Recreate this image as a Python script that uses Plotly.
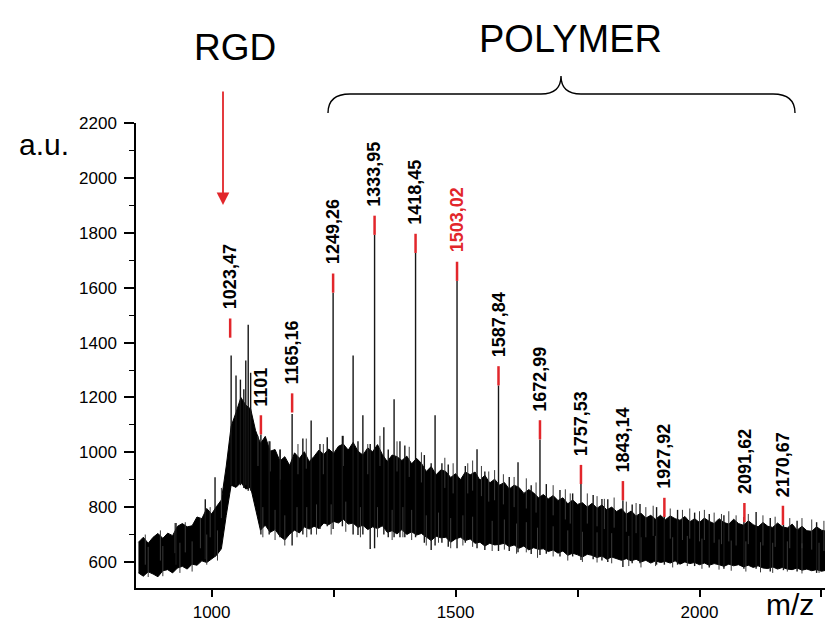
import plotly.graph_objects as go

# ---------------- data ----------------
band_mz = list(range(850, 2291, 10))
band_top = [672, 690, 668, 690, 704, 686, 705, 696, 730, 740, 728, 732, 764, 758, 795, 775, 802, 826,
            950, 1095, 1145, 1200, 1172, 1158, 1080, 1032, 1058, 1004, 1010, 968, 984, 952, 998, 978,
            1002, 966, 985, 1008, 992, 1012, 996, 1022, 1030, 1008, 1036, 1004, 990, 1016, 1002, 1028,
            992, 966, 990, 984, 970, 986, 958, 978, 960, 930, 948, 918, 936, 930, 908, 922, 900, 928,
            918, 928, 898, 916, 888, 902, 880, 890, 866, 880, 872, 850, 864, 852, 834, 846, 830, 842,
            824, 834, 812, 826, 810, 816, 800, 814, 796, 808, 790, 800, 784, 794, 774, 786, 768, 778,
            760, 770, 756, 770, 754, 768, 758, 752, 766, 746, 758, 744, 760, 748, 740, 758, 744, 738,
            756, 740, 734, 750, 736, 728, 744, 730, 726, 742, 728, 724, 738, 716, 730, 714, 712, 728,
            716, 712, 726, 710, 718]
band_bottom = [560, 548, 564, 556, 546, 568, 572, 560, 578, 584, 574, 592, 588, 604, 598, 612, 624, 648,
               770, 880, 872, 890, 866, 872, 792, 716, 734, 708, 718, 694, 680, 702, 716, 706, 728, 720,
               730, 722, 742, 736, 748, 742, 756, 738, 742, 726, 734, 718, 728, 722, 732, 708, 714, 702,
               718, 700, 710, 698, 704, 690, 678, 694, 688, 690, 672, 684, 690, 678, 684, 668, 672, 658,
               668, 662, 664, 668, 656, 662, 650, 658, 644, 652, 646, 648, 638, 644, 632, 640, 624, 632,
               626, 618, 628, 624, 616, 622, 610, 618, 612, 606, 612, 604, 610, 600, 606, 596, 604, 598,
               602, 596, 604, 592, 600, 594, 598, 590, 596, 588, 594, 590, 584, 592, 586, 590, 582, 588,
               580, 586, 578, 576, 582, 574, 580, 574, 572, 578, 570, 574, 568, 572, 566, 570, 562, 566,
               560]
assert len(band_top) == len(band_mz) == len(band_bottom)

# prominent peaks (vertical lines from base to top)
spike_mz = [927, 987, 1007, 1040, 1050, 1059, 1066, 1070, 1075, 1080, 1101, 1118, 1140, 1165, 1187,
            1204, 1222, 1237, 1249, 1268, 1290, 1300, 1310, 1325, 1334, 1353, 1362, 1374, 1386, 1396,
            1418, 1436, 1450, 1458, 1472, 1485, 1503, 1520, 1544, 1560, 1588, 1610, 1628, 1655, 1673,
            1686, 1714, 1740, 1757, 1782, 1800, 1812, 1843, 1862, 1878, 1912, 1928, 1955, 1990, 2020,
            2050, 2091, 2116, 2145, 2172, 2200, 2240, 2275]
spike_top = [742, 829, 909, 1353, 1280, 1265, 1230, 1335, 1465, 1290, 1065, 1040, 1010, 1140, 1050,
             1116, 1030, 1055, 1582, 1060, 1353, 1040, 1135, 1030, 1793, 1091, 1010, 1193, 1040, 1025,
             1727, 990, 960, 1135, 960, 955, 1625, 950, 1011, 930, 1244, 910, 964, 880, 1047,
             884, 862, 850, 884, 844, 830, 829, 825, 810, 811, 800, 764, 790, 780, 775,
             770, 764, 782, 760, 735, 750, 745, 745]
spike_base = [590, 610, 620, 880, 880, 880, 870, 880, 860, 860, 700, 700, 690, 660, 700,
              700, 720, 730, 720, 730, 700, 698, 700, 647, 650, 700, 690, 690, 690, 690,
              690, 670, 644, 660, 670, 655, 650, 670, 650, 644, 640, 640, 635, 629, 625,
              630, 620, 620, 607, 610, 605, 600, 582, 595, 595, 590, 590, 590, 585, 580,
              575, 575, 575, 565, 570, 565, 560, 555]

# small noise spikes poking out above and below the band
fringe_up_mz = [864, 895, 925, 946, 977, 997, 1020, 1095, 1120, 1141, 1177, 1194, 1229, 1270, 1320,
                1345, 1380, 1405, 1430, 1478, 1495, 1525, 1535, 1553, 1568, 1580, 1598, 1620, 1645,
                1665, 1700, 1725, 1735, 1770, 1790, 1805, 1825, 1850, 1870, 1890, 1905, 1940, 1965,
                1980, 2000, 2010, 2030, 2045, 2060, 2075, 2100, 2130, 2155, 2185, 2210, 2230, 2255,
                2268, 2285]
fringe_up_top = [700, 715, 742, 745, 760, 800, 870, 1060, 1040, 1010, 1030, 1050, 1030, 1060, 1030,
                 1060, 1040, 1020, 1000, 980, 960, 960, 970, 950, 930, 935, 920, 910, 905,
                 890, 880, 865, 850, 850, 840, 830, 835, 820, 815, 800, 805, 795, 790,
                 795, 785, 790, 780, 775, 785, 770, 775, 770, 765, 760, 760, 755, 750,
                 752, 745]
fringe_dn_mz = [870, 900, 935, 960, 990, 1012, 1105, 1130, 1150, 1175, 1195, 1215, 1245, 1275, 1305,
                1340, 1370, 1392, 1410, 1440, 1465, 1490, 1515, 1535, 1575, 1600, 1625, 1645, 1668,
                1700, 1730, 1760, 1790, 1820, 1855, 1880, 1910, 1945, 1975, 2005, 2040, 2065, 2095,
                2125, 2150, 2180, 2210, 2245, 2270, 2288]
fringe_dn_low = [545, 548, 560, 565, 590, 605, 690, 680, 660, 690, 690, 700, 700, 710, 690,
                 690, 680, 690, 680, 660, 670, 650, 660, 655, 640, 645, 630, 635, 615,
                 620, 605, 600, 598, 595, 585, 580, 585, 580, 585, 575, 572, 568, 565,
                 562, 560, 565, 558, 560, 550, 548]

peak_labels = ["1023,47", "1101", "1165,16", "1249,26", "1333,95", "1418,45", "1503,02",
               "1587,84", "1672,99", "1757,53", "1843,14", "1927,92", "2091,62", "2170,67"]
label_mz = [1038, 1101, 1165, 1249, 1334, 1418, 1503, 1588, 1673, 1757, 1843, 1928, 2092, 2171]
label_y = [1418, 1065, 1145, 1582, 1793, 1727, 1625, 1244, 1047, 884, 825, 764, 745, 735]
highlight = "1503,02"

x_ticks = [1000, 1250, 1500, 1750, 2000, 2250]
x_ticktext = ["1000", "", "1500", "", "2000", ""]
y_ticks = [600, 800, 1000, 1200, 1400, 1600, 1800, 2000, 2200]

# ---------------- styling ----------------
FONT = "Arial, Liberation Sans, sans-serif"
RED = "#e2262b"
MARK_H = 70
FRINGE_LEN = 110

L, R, T, B = 128, 0, 115, 41
W, H = 833, 621
PW, PH = W - L - R, H - T - B


def px(xp):
    return (xp - L) / PW


def py(yp):
    return (H - B - yp) / PH


def segments(xs, y0s, y1s):
    ox, oy = [], []
    for m, a, b in zip(xs, y0s, y1s):
        ox += [m, m, None]
        oy += [a, b, None]
    return ox, oy


fig = go.Figure()

# noise band
fig.add_trace(go.Scatter(
    x=band_mz + band_mz[::-1], y=band_top + band_bottom[::-1],
    fill="toself", fillcolor="#000000", mode="lines",
    line=dict(color="#000000", width=1), hoverinfo="skip", showlegend=False))

# fringe noise
fx, fy = segments(fringe_up_mz, [v - FRINGE_LEN for v in fringe_up_top], fringe_up_top)
fig.add_trace(go.Scatter(x=fx, y=fy, mode="lines", line=dict(color="#3a3a3a", width=1),
                         hoverinfo="skip", showlegend=False))
fx, fy = segments(fringe_dn_mz, fringe_dn_low, [v + FRINGE_LEN for v in fringe_dn_low])
fig.add_trace(go.Scatter(x=fx, y=fy, mode="lines", line=dict(color="#3a3a3a", width=1),
                         hoverinfo="skip", showlegend=False))

# peaks
sx, sy = segments(spike_mz, spike_base, spike_top)
fig.add_trace(go.Scatter(x=sx, y=sy, mode="lines",
                         line=dict(color="#161616", width=1.4),
                         hoverinfo="skip", showlegend=False))

# red peak markers
mx, my = segments(label_mz, label_y, [v + MARK_H for v in label_y])
fig.add_trace(go.Scatter(x=mx, y=my, mode="lines",
                         line=dict(color=RED, width=2.5),
                         hoverinfo="skip", showlegend=False))

annotations = []
for lab, m, yv in zip(peak_labels, label_mz, label_y):
    annotations.append(dict(
        x=m, y=yv + MARK_H, xref="x", yref="y", text=lab, showarrow=False,
        textangle=-90, xanchor="center", yanchor="bottom", yshift=8,
        font=dict(family=FONT, size=18, weight="bold",
                  color=RED if lab == highlight else "#000000"),
        borderpad=0))

annotations += [
    dict(x=px(36), y=py(136), xref="paper", yref="paper", text="a.u.", showarrow=False,
         font=dict(family=FONT, size=30, color="#000"), xanchor="center", yanchor="middle"),
    dict(x=px(782), y=py(614), xref="paper", yref="paper", text="m/z", showarrow=False,
         font=dict(family=FONT, size=30, color="#000"), xanchor="center", yanchor="bottom",
         borderpad=0),
    dict(x=px(227), y=py(39), xref="paper", yref="paper", text="RGD", showarrow=False,
         font=dict(family=FONT, size=37, color="#000"), xanchor="center", yanchor="middle"),
    dict(x=px(562), y=py(31), xref="paper", yref="paper", text="POLYMER", showarrow=False,
         font=dict(family=FONT, size=38, color="#000"), xanchor="center", yanchor="middle"),
    dict(x=px(215), y=py(197), xref="paper", yref="paper", text="", showarrow=True,
         ax=0, ay=-115, arrowcolor=RED, arrowwidth=1.8, arrowhead=2, arrowsize=1.4),
]


def pt(a, b):
    return f"{px(a):.5f},{py(b):.5f}"


brace = ("M " + pt(320, 105) + " Q " + pt(320, 86) + " " + pt(342, 86) +
         " L " + pt(533, 86) + " Q " + pt(553, 86) + " " + pt(553, 68) +
         " Q " + pt(553, 86) + " " + pt(573, 86) + " L " + pt(765, 86) +
         " Q " + pt(787, 86) + " " + pt(787, 105))

fig.update_layout(
    width=W, height=H, margin=dict(l=L, r=R, t=T, b=B),
    paper_bgcolor="white", plot_bgcolor="white",
    annotations=annotations,
    shapes=[dict(type="path", path=brace, xref="paper", yref="paper",
                 line=dict(color="#000", width=1.4))],
    xaxis=dict(range=[845, 2290], showgrid=False, zeroline=False,
               showline=True, linecolor="#000", linewidth=1.5,
               ticks="outside", ticklen=7, tickwidth=1.5, tickcolor="#000",
               tickvals=x_ticks, ticktext=x_ticktext, ticklabelstandoff=1,
               tickfont=dict(family=FONT, size=17, color="#000")),
    yaxis=dict(range=[505, 2201], showgrid=False, zeroline=False,
               showline=True, linecolor="#000", linewidth=1.5,
               ticks="outside", ticklen=10, tickwidth=1.5, tickcolor="#000",
               tickvals=y_ticks, ticklabelstandoff=4,
               tickfont=dict(family=FONT, size=17, color="#000"),
               minor=dict(dtick=100, tick0=0, ticks="outside", ticklen=5,
                          tickwidth=1.2, tickcolor="#000", showgrid=False)),
)

fig.write_html("out.html")
